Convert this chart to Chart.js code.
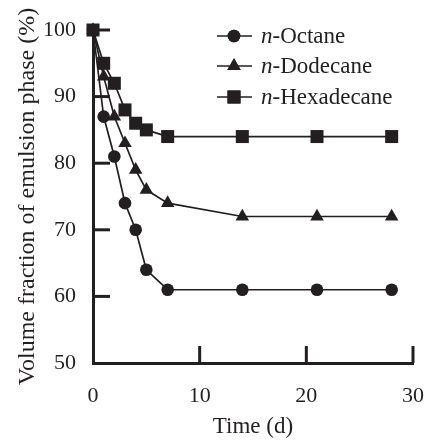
<!DOCTYPE html>
<html><head><meta charset="utf-8">
<script src="https://cdn.jsdelivr.net/npm/chart.js@4/dist/chart.umd.min.js"></script>
<style>html,body{margin:0;padding:0;background:#fff}#wrap{width:427px;height:444px}</style>
</head><body><div id="wrap"><canvas id="c" width="427" height="444"></canvas></div>
<script>
const days = [0, 1, 2, 3, 4, 5, 7, 14, 21, 28];
const octane = [100, 87, 81, 74, 70, 64, 61, 61, 61, 61];
const dodecane = [100, 93, 87, 83, 79, 76, 74, 72, 72, 72];
const hexadecane = [100, 95, 92, 88, 86, 85, 84, 84, 84, 84];
const seriesNames = ['Octane', 'Dodecane', 'Hexadecane'];
const xTicks = [0, 10, 20, 30];
const yTicks = [50, 60, 70, 80, 90, 100];

const INK = '#231f20';
const FONT = '"Liberation Serif", "Times New Roman", serif';
const styles = ['circle', 'triangle', 'rect'];
const radii = [6.3, 7.8, 9.2];

function mk(vals, i) {
  return {
    label: 'n-' + seriesNames[i],
    data: days.map((d, k) => ({x: d, y: vals[k]})),
    borderColor: INK, backgroundColor: INK, borderWidth: 1.7,
    pointStyle: styles[i], pointRadius: radii[i], pointHoverRadius: radii[i],
    pointBorderWidth: 0, tension: 0, clip: false
  };
}

const inwardTicks = {
  id: 'inwardTicks',
  afterDraw(chart) {
    const {ctx, chartArea: a, scales: {x, y}} = chart;
    ctx.save();
    ctx.strokeStyle = INK; ctx.lineWidth = 3; ctx.lineCap = 'butt';
    yTicks.forEach(v => { if (v === 50) return; const p = y.getPixelForValue(v);
      ctx.beginPath(); ctx.moveTo(a.left, p); ctx.lineTo(a.left + 17, p); ctx.stroke(); });
    xTicks.forEach(v => { if (v === 0) return; const p = x.getPixelForValue(v);
      ctx.beginPath(); ctx.moveTo(p, a.bottom); ctx.lineTo(p, a.bottom - 17); ctx.stroke(); });
    // legend
    const rows = [36, 66, 97];
    chart.data.datasets.forEach((ds, i) => {
      const yy = rows[i];
      ctx.strokeStyle = INK; ctx.lineWidth = 1.7;
      ctx.beginPath(); ctx.moveTo(217, yy); ctx.lineTo(252, yy); ctx.stroke();
      ctx.fillStyle = INK;
      Chart.helpers.drawPoint(ctx, {pointStyle: ds.pointStyle, radius: ds.pointRadius, borderWidth: 0}, 234, yy);
      ctx.fill();
      ctx.textBaseline = 'middle'; ctx.textAlign = 'left';
      ctx.font = 'italic 23px ' + FONT;
      ctx.fillText('n', 261, yy + 1);
      const w = ctx.measureText('n').width;
      ctx.font = '23px ' + FONT;
      ctx.fillText('-' + seriesNames[i], 261 + w, yy + 1);
    });
    ctx.restore();
  }
};

new Chart(document.getElementById('c'), {
  type: 'line',
  data: { datasets: [mk(octane, 0), mk(dodecane, 1), mk(hexadecane, 2)] },
  options: {
    responsive: false, animation: false, devicePixelRatio: 1,
    layout: { padding: { left: 0, right: 14, top: 30, bottom: 0 } },
    plugins: { legend: { display: false }, tooltip: { enabled: false } },
    scales: {
      x: {
        type: 'linear', min: 0, max: 30,
        afterBuildTicks: s => { s.ticks = xTicks.map(v => ({value: v})); },
        afterFit: s => { s.height = 81; s.paddingLeft = 0; s.paddingRight = 0; },
        grid: { display: false, drawTicks: false },
        border: { display: true, color: INK, width: 3 },
        ticks: { color: INK, font: { family: FONT, size: 22 }, padding: 20, maxRotation: 0 },
        title: { display: true, text: 'Time (d)', color: INK, font: { family: FONT, size: 23 }, padding: { top: 0, bottom: 3 } }
      },
      y: {
        type: 'linear', min: 50, max: 100,
        afterBuildTicks: s => { s.ticks = yTicks.map(v => ({value: v})); },
        afterFit: s => { s.width = 93; s.paddingTop = 0; s.paddingBottom = 0; },
        grid: { display: false, drawTicks: false },
        border: { display: true, color: INK, width: 3 },
        ticks: { color: INK, font: { family: FONT, size: 22 }, padding: 17 },
        title: { display: true, text: 'Volume fraction of emulsion phase (%)', color: INK, font: { family: FONT, size: 24 }, padding: { top: 13, bottom: 0 } }
      }
    }
  },
  plugins: [inwardTicks]
});
</script></body></html>
